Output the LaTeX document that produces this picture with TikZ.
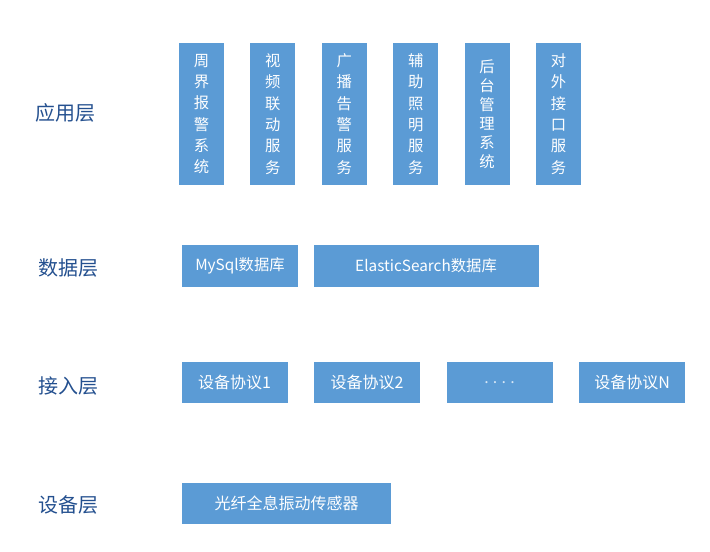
\documentclass[tikz,border=0pt]{standalone}
\usepackage{fontspec}
\setmainfont{Noto Sans CJK SC}
\usetikzlibrary{positioning}
\definecolor{boxblue}{HTML}{5B9BD5}
\definecolor{layerblue}{HTML}{24508F}

\begin{document}
\begin{tikzpicture}[
    x=0.75pt, y=-0.75pt,
    node distance=19.4pt,
    layer/.style={anchor=west, inner sep=0pt, text=layerblue, font=\fontsize{15}{18}\selectfont},
    appbox/.style={fill=boxblue, text=white, inner sep=0pt, minimum width=33.75pt, minimum height=106.5pt, align=center, font=\fontsize{11.5}{16}\selectfont},
    databox/.style={fill=boxblue, text=white, inner sep=0pt, minimum height=31.5pt, font=\fontsize{11.5}{14}\selectfont},
    accbox/.style={fill=boxblue, text=white, inner sep=0pt, minimum width=79.5pt, minimum height=30.75pt, font=\fontsize{12}{14}\selectfont}
  ]
  \useasboundingbox (0,0) rectangle (710,552);

  % --- Layer labels ---
  \node[layer] (applayer) at (35,113) {应用层};
  \node[layer] (datalayer) at (38,268) {数据层};
  \node[layer] (acclayer) at (38,386) {接入层};
  \node[layer] (devlayer) at (38,505) {设备层};

  % --- Row 1: application ---
  \node[appbox] (perimeter) at (201.5,114) {周\\界\\报\\警\\系\\统};
  \node[appbox, right=of perimeter] (video) {视\\频\\联\\动\\服\\务};
  \node[appbox, right=of video] (broadcast) {广\\播\\告\\警\\服\\务};
  \node[appbox, right=of broadcast] (lighting) {辅\\助\\照\\明\\服\\务};
  \node[appbox, right=of lighting, font=\fontsize{11.5}{14.3}\selectfont] (backend) {后\\台\\管\\理\\系\\统};
  \node[appbox, right=of backend] (api) {对\\外\\接\\口\\服\\务};

  % --- Row 2: data ---
  \node[databox, minimum width=87pt] (mysql) at (240,266) {MySql数据库};
  \node[databox, minimum width=168.75pt, right=11.25pt of mysql] (elastic) {ElasticSearch数据库};

  % --- Row 3: access ---
  \node[accbox] (proto1) at (234.5,382.5) {设备协议1};
  \node[accbox, right=19.5pt of proto1] (proto2) {设备协议2};
  \node[accbox, right=19.5pt of proto2, text=white!75!boxblue] (protodots) {.\hspace{3.2pt}.\hspace{3.2pt}.\hspace{3.2pt}.};
  \node[accbox, right=19.5pt of protodots] (protoN) {设备协议N};

  % --- Row 4: device ---
  \node[accbox, minimum width=156.75pt] (sensor) at (286.5,503.5) {光纤全息振动传感器};

\end{tikzpicture}
\end{document}
